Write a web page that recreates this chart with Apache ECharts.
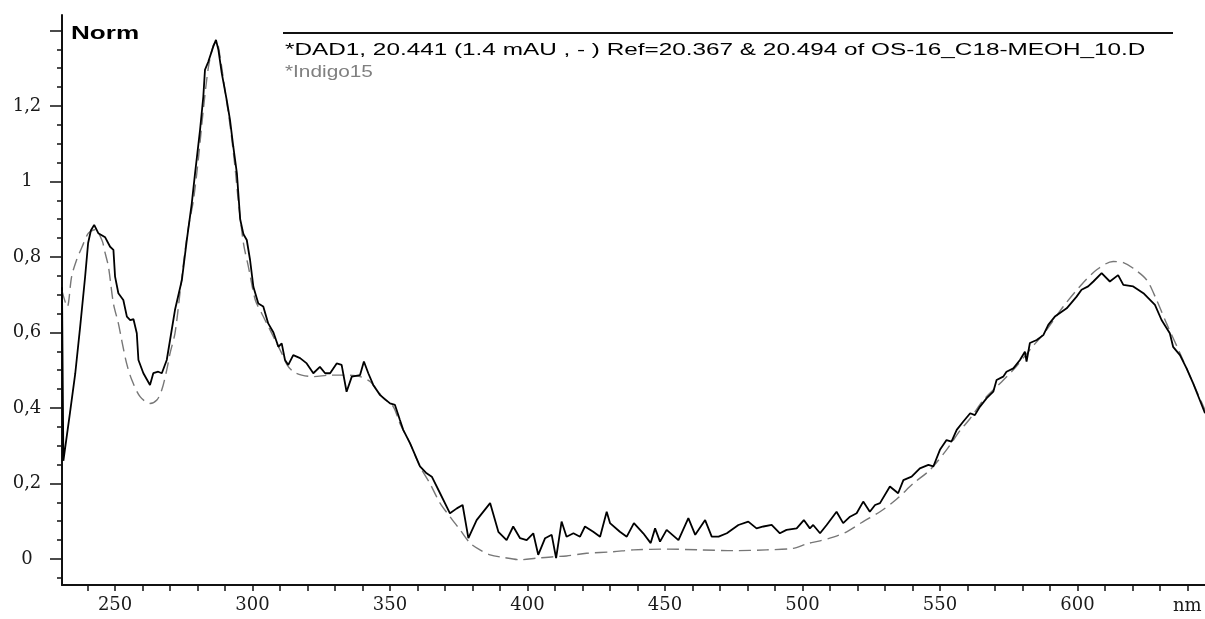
<!DOCTYPE html>
<html>
<head>
<meta charset="utf-8">
<title>UV-Vis spectrum</title>
<script src="https://cdn.jsdelivr.net/npm/echarts@6/dist/echarts.min.js"></script>
<style>
  html, body { margin: 0; padding: 0; background: #fff; }
  #chart { width: 1205px; height: 619px; }
</style>
</head>
<body>
<div id="chart"></div>
<script>
// wavelength (nm) and normalised absorbance of the measured peak (DAD1)
const dadNm = [230.7,231.2,233.6,235.5,237.3,239.1,240.2,241.2,242.4,243.9,246.4,248.2,249.4,250.0,251.2,253.0,254.3,255.5,256.7,257.9,
  258.5,260.3,262.7,263.9,265.7,267.0,268.8,270.0,271.8,274.3,276.1,277.9,279.1,280.9,282.1,282.7,283.9,285.7,286.7,287.6,
  288.8,290.6,291.8,293.0,294.3,295.5,296.7,297.9,299.1,300.3,302.1,303.9,305.7,307.6,309.4,310.6,311.8,313.0,314.8,317.3,
  319.7,322.1,324.5,326.4,328.2,330.6,332.4,334.2,336.1,339.1,340.5,342.1,343.9,346.4,350.0,351.8,353.6,354.8,357.3,360.9,
  363.3,365.2,368.2,371.8,374.3,376.4,378.5,381.5,386.4,389.4,392.4,394.8,397.3,399.7,402.1,403.9,406.4,408.8,410.4,412.4,
  414.2,416.7,419.1,420.9,423.9,426.4,428.8,430.0,433.6,436.1,438.7,442.1,444.8,446.4,448.2,450.6,454.9,458.5,461.0,464.6,
  467.0,469.5,472.5,476.7,480.3,483.3,485.8,488.8,491.8,494.2,497.9,500.5,502.7,503.9,506.4,508.8,512.4,514.8,517.3,519.7,
  522.1,524.5,526.4,528.2,531.8,534.8,536.7,539.7,542.7,545.8,547.6,550.0,552.4,554.2,556.1,558.5,561.0,562.7,564.5,567.0,
  569.4,570.6,573.0,574.2,576.7,579.1,580.9,581.5,582.7,585.2,587.6,589.4,591.8,596.1,599.7,601.5,603.9,605.8,608.8,611.8,
  614.8,616.7,620.3,624.0,628.2,630.6,633.6,634.8,637.3,639.7,642.1,644.5,646.4];
const dadAbs = [0.72,0.26,0.387,0.49,0.615,0.747,0.837,0.87,0.885,0.863,0.852,0.827,0.819,0.748,0.704,0.686,0.642,0.633,0.635,0.598,
  0.527,0.492,0.461,0.492,0.496,0.492,0.527,0.58,0.66,0.739,0.845,0.942,1.022,1.136,1.225,1.296,1.317,1.357,1.375,1.348,
  1.287,1.216,1.163,1.092,1.022,0.9,0.86,0.845,0.792,0.721,0.677,0.669,0.624,0.6,0.562,0.571,0.527,0.514,0.54,0.532,
  0.518,0.492,0.509,0.492,0.492,0.518,0.514,0.443,0.483,0.487,0.523,0.492,0.461,0.434,0.412,0.408,0.368,0.342,0.306,0.245,
  0.227,0.218,0.174,0.121,0.134,0.143,0.055,0.103,0.148,0.072,0.05,0.086,0.055,0.05,0.068,0.011,0.055,0.064,0.002,0.099,
  0.059,0.068,0.059,0.086,0.072,0.059,0.125,0.095,0.072,0.059,0.095,0.068,0.042,0.081,0.046,0.077,0.05,0.108,0.064,0.103,
  0.059,0.059,0.068,0.09,0.099,0.081,0.086,0.09,0.068,0.077,0.081,0.103,0.081,0.09,0.068,0.09,0.125,0.095,0.112,0.121,
  0.152,0.125,0.143,0.148,0.192,0.174,0.209,0.218,0.24,0.249,0.245,0.289,0.315,0.311,0.342,0.364,0.386,0.381,0.403,0.426,
  0.443,0.474,0.483,0.496,0.505,0.527,0.549,0.523,0.572,0.58,0.593,0.62,0.642,0.664,0.695,0.713,0.722,0.735,0.757,0.735,
  0.752,0.726,0.722,0.704,0.673,0.633,0.598,0.562,0.54,0.505,0.465,0.421,0.386];

// library reference spectrum (Indigo15)
const refNm = [230.7,232.6,234.2,236.0,237.9,240.3,242.7,245.2,246.4,247.6,249.4,251.2,252.4,254.2,256.1,259.1,262.7,265.2,267.0,268.8,
  270.0,271.8,273.6,275.5,276.7,278.5,280.3,282.1,283.9,285.7,286.9,288.2,290.0,291.8,293.6,294.8,296.7,298.5,301.0,303.3,
  305.8,308.2,310.6,312.5,314.8,317.9,322.1,328.2,334.2,339.1,342.7,345.2,347.6,351.2,353.6,357.3,360.9,364.5,368.2,371.8,
  375.5,379.1,382.7,386.4,391.2,397.3,403.3,409.4,414.2,421.5,431.2,438.5,450.6,462.7,474.8,486.9,496.6,501.5,506.4,511.2,
  516.1,522.1,528.2,534.2,540.3,546.4,552.4,557.3,561.0,565.8,570.6,576.7,582.7,588.8,594.8,600.9,607.0,613.0,616.7,620.3,
  625.2,628.8,632.4,637.3,642.1,646.4];
const refAbs = [0.71,0.668,0.748,0.792,0.825,0.863,0.872,0.845,0.81,0.774,0.677,0.624,0.58,0.518,0.474,0.43,0.412,0.421,0.448,0.501,
  0.545,0.598,0.704,0.819,0.88,0.95,1.06,1.19,1.3,1.36,1.37,1.33,1.24,1.15,1.04,0.95,0.836,0.774,0.686,0.651,
  0.615,0.58,0.545,0.515,0.496,0.487,0.483,0.487,0.487,0.483,0.47,0.448,0.426,0.403,0.359,0.306,0.245,0.2,0.148,0.112,
  0.077,0.042,0.024,0.011,0.004,-0.002,0.002,0.006,0.008,0.015,0.019,0.024,0.026,0.024,0.022,0.024,0.028,0.04,0.048,0.058,
  0.072,0.099,0.125,0.158,0.2,0.236,0.289,0.34,0.372,0.421,0.456,0.501,0.554,0.607,0.668,0.722,0.766,0.788,0.785,0.77,
  0.739,0.686,0.624,0.545,0.465,0.395];

// axis ticks
const xLabelTicks = [250, 300, 350, 400, 450, 500, 550, 600];
const xMinorTicks = [240, 250, 260, 270, 280, 290, 300, 310, 320, 330, 340, 350, 360, 370, 380, 390, 400, 410, 420, 430,
  440, 450, 460, 470, 480, 490, 500, 510, 520, 530, 540, 550, 560, 570, 580, 590, 600, 610, 620, 630, 640];
const yLabelTicks = [0, 0.2, 0.4, 0.6, 0.8, 1, 1.2];
const yMajorTicks = [0, 0.2, 0.4, 0.6, 0.8, 1, 1.2, 1.4];
const yMinorTicks = [-0.05, 0, 0.05, 0.1, 0.15, 0.2, 0.25, 0.3, 0.35, 0.4, 0.45, 0.5, 0.55, 0.6, 0.65, 0.7, 0.75, 0.8,
  0.85, 0.9, 0.95, 1, 1.05, 1.1, 1.15, 1.2, 1.25, 1.3, 1.35, 1.4];

const dadTitle = "*DAD1, 20.441 (1.4 mAU , - ) Ref=20.367 & 20.494 of OS-16_C18-MEOH_10.D";
const refTitle = "*Indigo15";

const chart = echarts.init(document.getElementById("chart"));

const yMin = -0.069, yMax = 1.441;
const labelFont = { fontFamily: "DejaVu Serif", fontSize: 18, color: "#1a1a1a" };

const option = {
  animation: false,
  backgroundColor: "#fff",
  grid: { left: 62, right: 0, top: 15, bottom: 34 },
  xAxis: {
    type: "value",
    min: 230.7,
    max: 646.4,
    name: "nm",
    nameLocation: "end",
    nameGap: -32,
    nameTextStyle: Object.assign({ align: "left", verticalAlign: "top", padding: [12, 0, 0, 0] }, labelFont),
    axisLine: { onZero: false, lineStyle: { color: "#111", width: 2 } },
    axisTick: { customValues: xMinorTicks, length: 6, lineStyle: { color: "#111", width: 1.5 } },
    axisLabel: Object.assign({ customValues: xLabelTicks, margin: 11 }, labelFont),
    splitLine: { show: false }
  },
  yAxis: [
    {
      type: "value",
      min: yMin,
      max: yMax,
      axisLine: { show: true, lineStyle: { color: "#111", width: 2 } },
      axisTick: { customValues: yMajorTicks, length: 12, lineStyle: { color: "#111", width: 1.5 } },
      axisLabel: Object.assign({
        customValues: yLabelTicks,
        align: "center",
        margin: 35,
        formatter: function (v) { return String(Math.round(v * 10) / 10).replace(".", ","); }
      }, labelFont),
      splitLine: { show: false }
    },
    {
      // minor ticks only
      type: "value",
      min: yMin,
      max: yMax,
      position: "left",
      axisLine: { show: false },
      axisTick: { customValues: yMinorTicks, length: 5, lineStyle: { color: "#111", width: 1.5 } },
      axisLabel: { show: false },
      splitLine: { show: false }
    }
  ],
  series: [
    {
      name: "Indigo15",
      type: "line",
      showSymbol: false,
      smooth: 0.3,
      data: refNm.map((x, i) => [x, refAbs[i]]),
      lineStyle: { color: "#777", width: 1.4, type: [12, 6] },
      z: 2
    },
    {
      name: "DAD1",
      type: "line",
      showSymbol: false,
      data: dadNm.map((x, i) => [x, dadAbs[i]]),
      lineStyle: { color: "#000", width: 1.8 },
      z: 3
    }
  ],
  graphic: [
    {
      type: "text", x: 71, y: 25, scaleX: 1.45,
      style: { text: "Norm", fontFamily: "Liberation Sans", fontWeight: "bold", fontSize: 18, fill: "#000" }
    },
    {
      type: "line",
      shape: { x1: 283, y1: 33, x2: 1173, y2: 33 },
      style: { stroke: "#111", lineWidth: 2 }
    },
    {
      type: "text", x: 285, y: 43, scaleX: 1.52,
      style: { text: dadTitle, fontFamily: "Liberation Sans", fontSize: 16, fill: "#000" }
    },
    {
      type: "text", x: 285, y: 65, scaleX: 1.3,
      style: { text: refTitle, fontFamily: "Liberation Sans", fontSize: 16, fill: "#808080" }
    }
  ]
};

chart.setOption(option);
</script>
</body>
</html>
